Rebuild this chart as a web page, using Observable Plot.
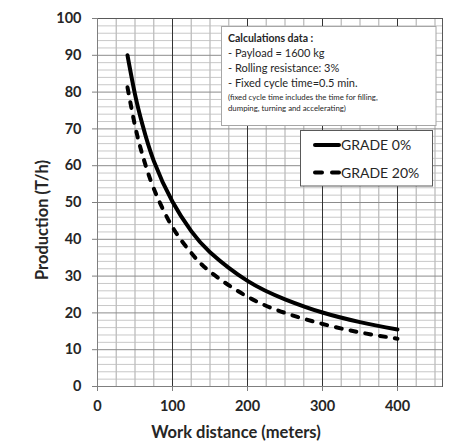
<!DOCTYPE html>
<html>
<head>
<meta charset="utf-8">
<script src="https://cdn.jsdelivr.net/npm/d3@7"></script>
<script src="https://cdn.jsdelivr.net/npm/@observablehq/plot@0.6"></script>
<style>
  html, body { margin: 0; padding: 0; background: #fff; }
  #chart svg { display: block; }
</style>
</head>
<body>
<div id="chart"></div>
<script>
// Data
const distances = [40, 50, 60, 75, 100, 125, 150, 200, 250, 300, 350, 400];
const grade0    = [90, 79.4, 71.1, 61.3, 50.2, 42.2, 36.5, 28.7, 23.7, 20.1, 17.5, 15.5];
const grade20   = [81.3, 70.9, 62.9, 53.8, 43.3, 36.3, 31.2, 24.4, 20.0, 17.0, 14.7, 13.0];
const seriesNames = ["GRADE 0%", "GRADE 20%"];
const xTicks = [0, 100, 200, 300, 400];
const yTicks = [0, 10, 20, 30, 40, 50, 60, 70, 80, 90, 100];
const xMinorGrid = [25, 50, 75, 125, 150, 175, 225, 250, 275, 325, 350, 375, 425, 450];
const xMajorGrid = [100, 200, 300, 400];
const yMinorGrid = d3.range(2, 100, 2).filter(v => v % 10 !== 0);
const yMajorGrid = [10, 20, 30, 40, 50, 60, 70, 80, 90];
const noteTitle = "Calculations data :";
const noteLines = ["- Payload = 1600 kg", "- Rolling resistance: 3%", "- Fixed cycle time=0.5 min."];
const noteSmall = ["(fixed cycle time includes the time for filling,", "dumping, turning and accelerating)"];
const xTitle = "Work distance (meters)";
const yTitle = "Production (T/h)";

const rows0 = distances.map((d, i) => ({d, p: grade0[i]}));
const rows20 = distances.map((d, i) => ({d, p: grade20[i]}));

const font = "Lato, 'Open Sans', sans-serif";
const ink = "#262626";

const chart = Plot.plot({
  width: 449,
  height: 443,
  marginLeft: 97,
  marginRight: 7,
  marginTop: 18,
  marginBottom: 57,
  style: {fontFamily: font, fontWeight: "bold", color: ink, background: "#fff"},
  x: {domain: [0, 460]},
  y: {domain: [0, 100]},
  marks: [
    Plot.ruleY(yMinorGrid, {stroke: "#c8c8c8", strokeWidth: 1}),
    Plot.ruleX(xMinorGrid, {stroke: "#bdbdbd", strokeWidth: 1.3}),
    Plot.ruleY(yMajorGrid, {stroke: "#8c8c8c", strokeWidth: 1}),
    Plot.ruleX(xMajorGrid, {stroke: "#333", strokeWidth: 1}),
    Plot.frame({stroke: "#595959", strokeWidth: 1}),
    Plot.ruleY([0], {stroke: "#7f7f7f"}),
    Plot.ruleX([0], {stroke: "#7f7f7f"}),
    Plot.axisX({ticks: xTicks, tickSize: 5, tickPadding: 9, fontSize: 14.5, label: null, stroke: "#7f7f7f"}),
    Plot.axisY({ticks: yTicks, tickSize: 5, tickPadding: 11, fontSize: 14.5, label: null, stroke: "#7f7f7f"}),
    Plot.line(rows0, {x: "d", y: "p", stroke: "#000", strokeWidth: 4, curve: "natural", strokeLinecap: "round"}),
    Plot.line(rows20, {x: "d", y: "p", stroke: "#000", strokeWidth: 4, curve: "natural", strokeDasharray: "6,9", strokeLinecap: "round"})
  ]
});

document.getElementById("chart").appendChild(chart);

const svg = d3.select(chart);

// Axis titles
svg.append("text")
  .attr("x", 236).attr("y", 438)
  .attr("text-anchor", "middle")
  .attr("font-family", font).attr("font-weight", "bold").attr("font-size", 16.5)
  .attr("fill", ink)
  .text(xTitle);
svg.append("text")
  .attr("transform", "translate(48,220) rotate(-90)")
  .attr("text-anchor", "middle")
  .attr("font-family", font).attr("font-weight", "bold").attr("font-size", 16.5)
  .attr("fill", ink)
  .text(yTitle);

// Note box
const note = svg.append("g").attr("text-anchor", "start").style("font-weight", "normal");
note.append("rect")
  .attr("x", 221.5).attr("y", 26.5).attr("width", 214.5).attr("height", 99)
  .attr("fill", "#fff").attr("stroke", "#a6a6a6").attr("stroke-width", 1);
note.append("text")
  .attr("x", 228).attr("y", 41.5).attr("text-anchor", "start")
  .attr("font-family", font).style("font-weight", "bold").attr("font-size", 10.5)
  .attr("fill", ink).text(noteTitle);
noteLines.forEach((t, i) => {
  note.append("text")
    .attr("x", 228).attr("y", 57 + i * 15).attr("text-anchor", "start")
    .attr("font-family", font).style("font-weight", "normal").attr("font-size", 11)
    .attr("fill", ink).text(t);
});
noteSmall.forEach((t, i) => {
  note.append("text")
    .attr("x", 228).attr("y", 100 + i * 10.5).attr("text-anchor", "start")
    .attr("font-family", font).style("font-weight", "normal").attr("font-size", 7.8)
    .attr("fill", ink).text(t);
});

// Legend box
const leg = svg.append("g").attr("text-anchor", "start").style("font-weight", "normal");
leg.append("rect")
  .attr("x", 300.5).attr("y", 130.5).attr("width", 132).attr("height", 55.5)
  .attr("fill", "#fff").attr("stroke", "#595959").attr("stroke-width", 1);
[145, 172.5].forEach((y, i) => {
  leg.append("line")
    .attr("x1", 315).attr("x2", 339).attr("y1", y).attr("y2", y)
    .attr("stroke", "#000").attr("stroke-width", 4).attr("stroke-linecap", "round")
    .attr("stroke-dasharray", i === 1 ? "7,10" : null);
  leg.append("text")
    .attr("x", 341).attr("y", y + 5).attr("text-anchor", "start")
    .attr("font-family", font).style("font-weight", "normal").attr("font-size", 14)
    .attr("fill", ink).text(seriesNames[i]);
});
</script>
</body>
</html>
